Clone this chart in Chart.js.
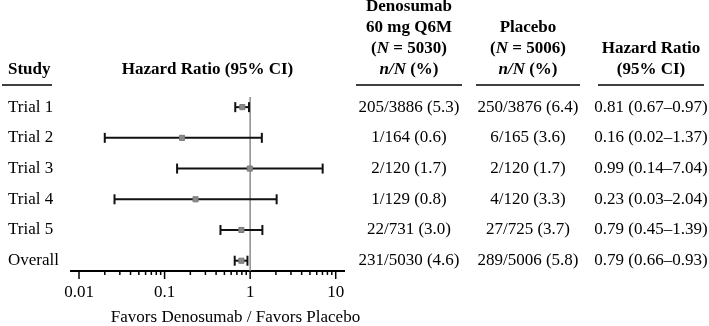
<!DOCTYPE html>
<html lang="en">
<head>
<meta charset="UTF-8">
<title>Forest plot - Hazard Ratio</title>
<script src="https://cdn.jsdelivr.net/npm/chart.js"></script>
<style>
  html, body { margin: 0; padding: 0; background: #fff; }
</style>
</head>
<body>
<canvas id="forest" width="709" height="326"></canvas>
<script>
// --- data ---
const studies = ['Trial 1', 'Trial 2', 'Trial 3', 'Trial 4', 'Trial 5', 'Overall'];
const hazardRatio = [0.81, 0.16, 0.99, 0.23, 0.79, 0.79];
const ciLower = [0.67, 0.02, 0.14, 0.026, 0.45, 0.66];
const ciUpper = [0.97, 1.37, 7.04, 2.04, 1.39, 0.93];
const denosumabEvents = ['205/3886 (5.3)', '1/164 (0.6)', '2/120 (1.7)', '1/129 (0.8)', '22/731 (3.0)', '231/5030 (4.6)'];
const placeboEvents = ['250/3876 (6.4)', '6/165 (3.6)', '2/120 (1.7)', '4/120 (3.3)', '27/725 (3.7)', '289/5006 (5.8)'];
const denosumabN = 5030;
const placeboN = 5006;
const majorTicks = [0.01, 0.1, 1, 10];
const tickLabels = ['0.01', '0.1', '1', '10'];
const referenceHR = 1;
const xTitle = 'Favors Denosumab / Favors Placebo';

// minor ticks 2..9 between the decades
const tickValues = [];
majorTicks.forEach((m, i) => {
    tickValues.push(m);
    if (i < majorTicks.length - 1) {
        for (let k = 2; k <= 9; k++) tickValues.push(k * m);
    }
});

const FAMILY = "'Liberation Serif', 'Times New Roman', serif";
const R = "17px " + FAMILY;
const B = "bold 17px " + FAMILY;
const BI = "italic bold 17px " + FAMILY;

Chart.defaults.font.family = FAMILY;
Chart.defaults.font.size = 17;
Chart.defaults.color = '#000';

const fmt = v => v.toFixed(2);

// draws text made of several font runs, centred on cx
function drawRich(ctx, parts, cx, y, align) {
    const widths = parts.map(p => { ctx.font = p[1]; return ctx.measureText(p[0]).width; });
    const total = widths.reduce((a, b) => a + b, 0);
    let x = align === 'left' ? cx : cx - total / 2;
    ctx.textAlign = 'left';
    parts.forEach((p, i) => {
        ctx.font = p[1];
        ctx.fillText(p[0], x, y);
        x += widths[i];
    });
}

function underline(ctx, x1, x2, y) {
    ctx.beginPath();
    ctx.moveTo(x1, y);
    ctx.lineTo(x2, y);
    ctx.stroke();
}

const tablePlugin = {
    id: 'table',
    afterDraw(chart) {
        const ctx = chart.ctx;
        const yScale = chart.scales.y;
        const xScale = chart.scales.x;
        const area = chart.chartArea;
        ctx.save();
        ctx.fillStyle = '#000';
        ctx.strokeStyle = '#000';
        ctx.textBaseline = 'middle';

        // axis tick marks (major longer than minor)
        ctx.lineWidth = 1.5;
        tickValues.forEach(v => {
            const x = xScale.getPixelForValue(v);
            const len = majorTicks.includes(v) ? 8 : 4;
            ctx.beginPath();
            ctx.moveTo(x, area.bottom);
            ctx.lineTo(x, area.bottom + len);
            ctx.stroke();
        });

        // axis title
        ctx.font = R;
        ctx.textAlign = 'center';
        ctx.fillText(xTitle, 235.5, 318);

        // column positions
        const colStudy = 8, colDeno = 409, colPlac = 528, colHR = 651;
        const hY = [7, 28, 49, 70];
        const lineY = 85;

        // headers
        drawRich(ctx, [['Study', B]], colStudy, hY[3], 'left');
        drawRich(ctx, [['Hazard Ratio (95% CI)', B]], (area.left + area.right) / 2, hY[3]);
        drawRich(ctx, [['Denosumab', B]], colDeno, hY[0]);
        drawRich(ctx, [['60 mg Q6M', B]], colDeno, hY[1]);
        drawRich(ctx, [['(', B], ['N', BI], [' = ' + denosumabN + ')', B]], colDeno, hY[2]);
        drawRich(ctx, [['n/N', BI], [' (%)', B]], colDeno, hY[3]);
        drawRich(ctx, [['Placebo', B]], colPlac, hY[1]);
        drawRich(ctx, [['(', B], ['N', BI], [' = ' + placeboN + ')', B]], colPlac, hY[2]);
        drawRich(ctx, [['n/N', BI], [' (%)', B]], colPlac, hY[3]);
        drawRich(ctx, [['Hazard Ratio', B]], colHR, hY[2]);
        drawRich(ctx, [['(95% CI)', B]], colHR, hY[3]);

        ctx.lineWidth = 1.5;
        underline(ctx, 2, 52, lineY);
        underline(ctx, 356, 462, lineY);
        underline(ctx, 476, 580, lineY);
        underline(ctx, 598, 704, lineY);

        // rows
        studies.forEach((s, i) => {
            const y = yScale.getPixelForValue(i);
            ctx.font = R;
            ctx.textAlign = 'left';
            ctx.fillText(s, colStudy, y);
            ctx.textAlign = 'center';
            ctx.fillText(denosumabEvents[i], colDeno, y);
            ctx.fillText(placeboEvents[i], colPlac, y);
            ctx.fillText(fmt(hazardRatio[i]) + ' (' + fmt(ciLower[i]) + '\u2013' + fmt(ciUpper[i]) + ')', colHR, y);
        });
        ctx.restore();
    }
};

const Y_MIN = -0.33, Y_MAX = 5.335;

const ciSets = studies.map((s, i) => ({
    label: s + ' CI',
    data: [{ x: ciLower[i], y: i }, { x: ciUpper[i], y: i }],
    showLine: true,
    borderColor: '#111',
    borderWidth: 2,
    pointStyle: 'line',
    pointRotation: 90,
    pointRadius: 5,
    pointBorderWidth: 2,
    pointBorderColor: '#111',
    pointHoverRadius: 5,
    order: 2
}));

new Chart(document.getElementById('forest'), {
    type: 'scatter',
    data: {
        datasets: [
            {
                label: 'HR',
                data: hazardRatio.map((v, i) => ({ x: v, y: i })),
                pointStyle: 'rect',
                pointRadius: 3.6,
                backgroundColor: '#8a8a8a',
                borderColor: '#7a7a7a',
                borderWidth: 1,
                order: 1
            },
            ...ciSets,
            {
                label: 'Reference',
                data: [{ x: referenceHR, y: Y_MIN }, { x: referenceHR, y: Y_MAX }],
                showLine: true,
                borderColor: '#8c8c8c',
                borderWidth: 1.5,
                pointRadius: 0,
                order: 3
            }
        ]
    },
    options: {
        responsive: false,
        devicePixelRatio: 1,
        animation: false,
        layout: { padding: { left: 71, right: 365, top: 97, bottom: 20.6 } },
        plugins: { legend: { display: false }, tooltip: { enabled: false } },
        scales: {
            x: {
                type: 'logarithmic',
                min: 0.00806,
                max: 12.5,
                afterBuildTicks: axis => {
                    axis.ticks = tickValues.map(v => ({ value: v, major: majorTicks.includes(v) }));
                },
                ticks: {
                    autoSkip: false,
                    maxRotation: 0,
                    padding: 3,
                    color: '#000',
                    font: { size: 17 },
                    callback: value => {
                        const k = majorTicks.indexOf(value);
                        return k >= 0 ? tickLabels[k] : '';
                    }
                },
                grid: {
                    display: true,
                    drawOnChartArea: false,
                    drawTicks: true,
                    tickLength: 8,
                    tickColor: 'rgba(0,0,0,0)'
                },
                border: { display: true, color: '#000', width: 2 }
            },
            y: {
                type: 'linear',
                reverse: true,
                min: Y_MIN,
                max: Y_MAX,
                display: false
            }
        }
    },
    plugins: [tablePlugin]
});
</script>
</body>
</html>
